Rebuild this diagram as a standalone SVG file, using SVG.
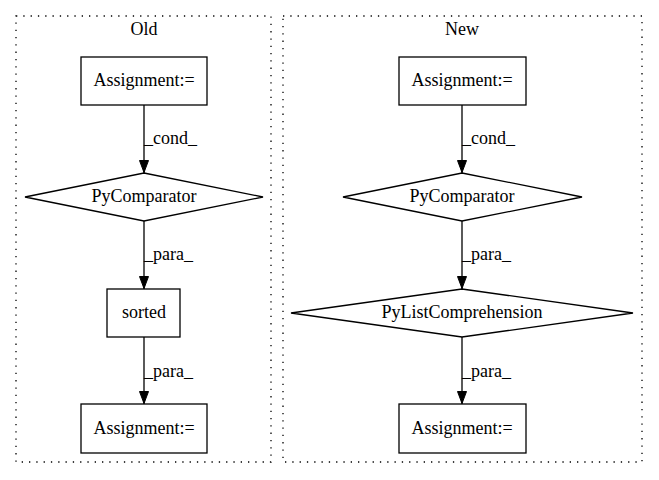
<svg xmlns="http://www.w3.org/2000/svg" width="659" height="480" viewBox="0 0 659 480">
<style>
text{font-family:"Liberation Serif","Times New Roman",serif;font-size:18px;fill:#000}
.n{fill:none;stroke:#000;stroke-width:1.3}
.c{fill:none;stroke:#000;stroke-width:1.3;stroke-dasharray:1.3,6}
.e{fill:none;stroke:#000;stroke-width:1.3}
.m{text-anchor:middle}
</style>
<defs>
<marker id="ah" viewBox="0 0 13 10" refX="13" refY="5" markerWidth="13" markerHeight="10" markerUnits="userSpaceOnUse" orient="auto">
<path d="M0.5,0.5 L12.5,5 L0.5,9.5 Z" fill="#000" stroke="#000"/>
</marker>
</defs>
<rect width="659" height="480" fill="#fff"/>
<g id="cluster_old">
<rect class="c" x="16" y="16" width="255" height="446"/>
<text class="m" x="144" y="35">Old</text>
</g>
<g id="cluster_new">
<rect class="c" x="283" y="16" width="359" height="446"/>
<text class="m" x="462" y="35">New</text>
</g>
<g id="connectors">
<line class="e" x1="144" y1="105" x2="144" y2="173" marker-end="url(#ah)"/>
<text x="144" y="144">_cond_</text>
<line class="e" x1="144" y1="221" x2="144" y2="289" marker-end="url(#ah)"/>
<text x="144" y="260">_para_</text>
<line class="e" x1="144" y1="337" x2="144" y2="404" marker-end="url(#ah)"/>
<text x="144" y="377">_para_</text>
<line class="e" x1="462" y1="105" x2="462" y2="173" marker-end="url(#ah)"/>
<text x="462" y="144">_cond_</text>
<line class="e" x1="462" y1="221" x2="462" y2="289" marker-end="url(#ah)"/>
<text x="462" y="260">_para_</text>
<line class="e" x1="462" y1="337" x2="462" y2="404" marker-end="url(#ah)"/>
<text x="462" y="377">_para_</text>
</g>
<g id="old_assign1">
<rect class="n" x="81" y="57" width="126" height="48"/>
<text class="m" x="144" y="86">Assignment:=</text>
</g>
<g id="old_pycomparator">
<polygon class="n" points="144,173 263,197 144,221 25,197"/>
<text class="m" x="144" y="202">PyComparator</text>
</g>
<g id="old_sorted">
<rect class="n" x="107" y="289" width="73" height="48"/>
<text class="m" x="144" y="318">sorted</text>
</g>
<g id="old_assign2">
<rect class="n" x="81" y="404" width="126" height="49"/>
<text class="m" x="144" y="434">Assignment:=</text>
</g>
<g id="new_assign1">
<rect class="n" x="399" y="57" width="127" height="48"/>
<text class="m" x="462" y="86">Assignment:=</text>
</g>
<g id="new_pycomparator">
<polygon class="n" points="462,173 582,197 462,221 343,197"/>
<text class="m" x="462" y="202">PyComparator</text>
</g>
<g id="new_listcomp">
<polygon class="n" points="462,289 633,313 462,337 291,313"/>
<text class="m" x="462" y="318">PyListComprehension</text>
</g>
<g id="new_assign2">
<rect class="n" x="399" y="404" width="127" height="49"/>
<text class="m" x="462" y="434">Assignment:=</text>
</g>
</svg>
